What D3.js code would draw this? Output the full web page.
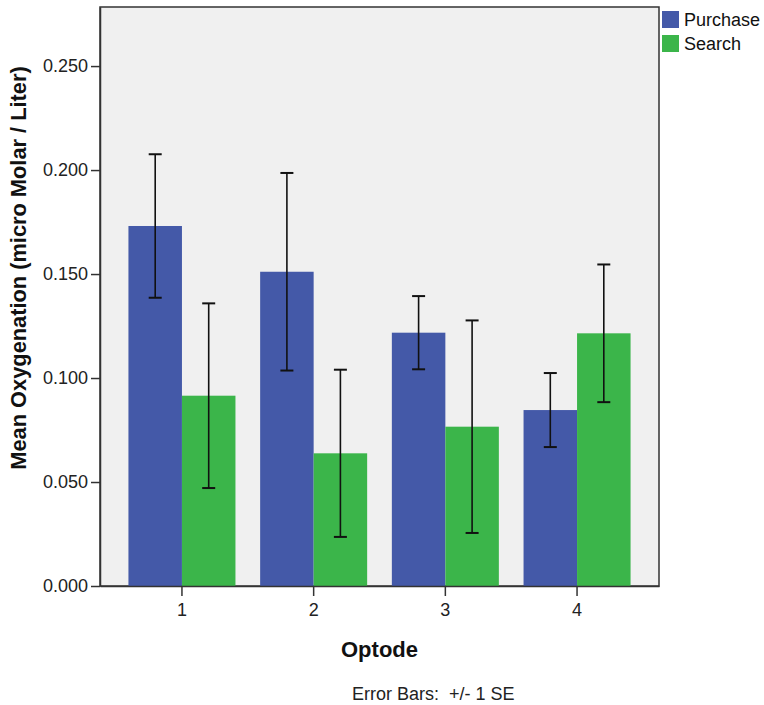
<!DOCTYPE html>
<html>
<head>
<meta charset="utf-8">
<script src="https://cdn.jsdelivr.net/npm/d3@7"></script>
<style>
  body { margin: 0; background: #fff; }
  svg { display: block; font-family: "Liberation Sans", Arial, sans-serif; }
</style>
</head>
<body>
<svg id="chart" width="764" height="705"></svg>
<script>
const categories = ["1", "2", "3", "4"];
const seriesNames = ["Purchase", "Search"];
const purchaseMean = [0.1731, 0.1511, 0.1218, 0.0846];
const purchaseSE   = [0.0345, 0.0475, 0.0176, 0.0178];
const searchMean   = [0.0915, 0.0638, 0.0766, 0.1215];
const searchSE     = [0.0444, 0.0402, 0.0511, 0.0331];
const yTicks = [0, 0.05, 0.10, 0.15, 0.20, 0.25];
const colors = ["#4459a8", "#3bb54a"];

const svg = d3.select("#chart");
const margin = { left: 100, right: 659, top: 7, bottom: 586 };

const y = d3.scaleLinear().domain([0, 0.2784]).range([margin.bottom, margin.top]);
const x0 = d3.scaleBand().domain(categories).range([margin.left, margin.right])
  .paddingInner(0.1875).paddingOuter(0.216);
const x1 = d3.scaleBand().domain(seriesNames).range([0, x0.bandwidth()]);

// plot background
svg.append("rect")
  .attr("x", margin.left).attr("y", margin.top)
  .attr("width", margin.right - margin.left).attr("height", margin.bottom - margin.top)
  .attr("fill", "#f0f0f0").attr("stroke", "#333").attr("stroke-width", 1.5);

const data = categories.map((c, i) => ({
  cat: c,
  vals: [
    { s: "Purchase", m: purchaseMean[i], se: purchaseSE[i], col: colors[0] },
    { s: "Search", m: searchMean[i], se: searchSE[i], col: colors[1] }
  ]
}));

const groups = svg.append("g").selectAll("g").data(data).join("g")
  .attr("transform", d => `translate(${x0(d.cat)},0)`);

groups.selectAll("rect").data(d => d.vals).join("rect")
  .attr("x", d => x1(d.s))
  .attr("y", d => y(d.m))
  .attr("width", x1.bandwidth())
  .attr("height", d => y(0) - y(d.m))
  .attr("fill", d => d.col);

const capW = 6.5;
groups.selectAll("g.err").data(d => d.vals).join("g").attr("class", "err")
  .each(function (d) {
    const g = d3.select(this);
    const cx = x1(d.s) + x1.bandwidth() / 2;
    const yt = y(d.m + d.se), yb = y(d.m - d.se);
    g.append("line").attr("x1", cx).attr("x2", cx).attr("y1", yt).attr("y2", yb)
      .attr("stroke", "#111").attr("stroke-width", 1.6);
    g.append("line").attr("x1", cx - capW).attr("x2", cx + capW).attr("y1", yt).attr("y2", yt)
      .attr("stroke", "#111").attr("stroke-width", 2);
    g.append("line").attr("x1", cx - capW).attr("x2", cx + capW).attr("y1", yb).attr("y2", yb)
      .attr("stroke", "#111").attr("stroke-width", 2);
  });

// Y axis
const yAxis = svg.append("g").attr("transform", `translate(${margin.left},0)`)
  .call(d3.axisLeft(y).tickValues(yTicks).tickFormat(d3.format(".3f"))
    .tickSizeInner(9).tickSizeOuter(0).tickPadding(3));
yAxis.select(".domain").attr("stroke", "#333").attr("stroke-width", 1.5);
yAxis.selectAll(".tick line").attr("stroke", "#333").attr("stroke-width", 1.5);
yAxis.selectAll(".tick text").attr("font-size", "18px").attr("fill", "#222")
  .attr("font-family", "Liberation Sans, Arial, sans-serif");

// X axis
const xAxis = svg.append("g").attr("transform", `translate(0,${margin.bottom})`)
  .call(d3.axisBottom(x0).tickSizeInner(10).tickSizeOuter(0).tickPadding(7));
xAxis.select(".domain").attr("stroke", "#333").attr("stroke-width", 1.5);
xAxis.selectAll(".tick line").attr("stroke", "#333").attr("stroke-width", 1.5);
xAxis.selectAll(".tick text").attr("font-size", "18px").attr("fill", "#222")
  .attr("font-family", "Liberation Sans, Arial, sans-serif");

// Axis titles
svg.append("text")
  .attr("x", (margin.left + margin.right) / 2).attr("y", 657)
  .attr("text-anchor", "middle").attr("font-weight", "bold").attr("font-size", "22px")
  .attr("fill", "#111").text("Optode");

svg.append("text")
  .attr("transform", "translate(26,268) rotate(-90)")
  .attr("text-anchor", "middle").attr("font-weight", "bold").attr("font-size", "21.8px")
  .attr("fill", "#111").text("Mean Oxygenation (micro Molar / Liter)");

svg.append("text")
  .attr("x", 352).attr("y", 700)
  .attr("font-size", "18px").attr("fill", "#222")
  .attr("xml:space", "preserve").style("white-space", "pre")
  .text("Error Bars:  +/- 1 SE");

// Legend
const legend = svg.append("g").selectAll("g").data(seriesNames).join("g")
  .attr("transform", (d, i) => `translate(662,${11 + i * 24})`);
legend.append("rect").attr("width", 17).attr("height", 17)
  .attr("fill", (d, i) => colors[i]);
legend.append("text").attr("x", 22).attr("y", 15)
  .attr("font-size", "18px").attr("fill", "#111").text(d => d);
</script>
</body>
</html>
